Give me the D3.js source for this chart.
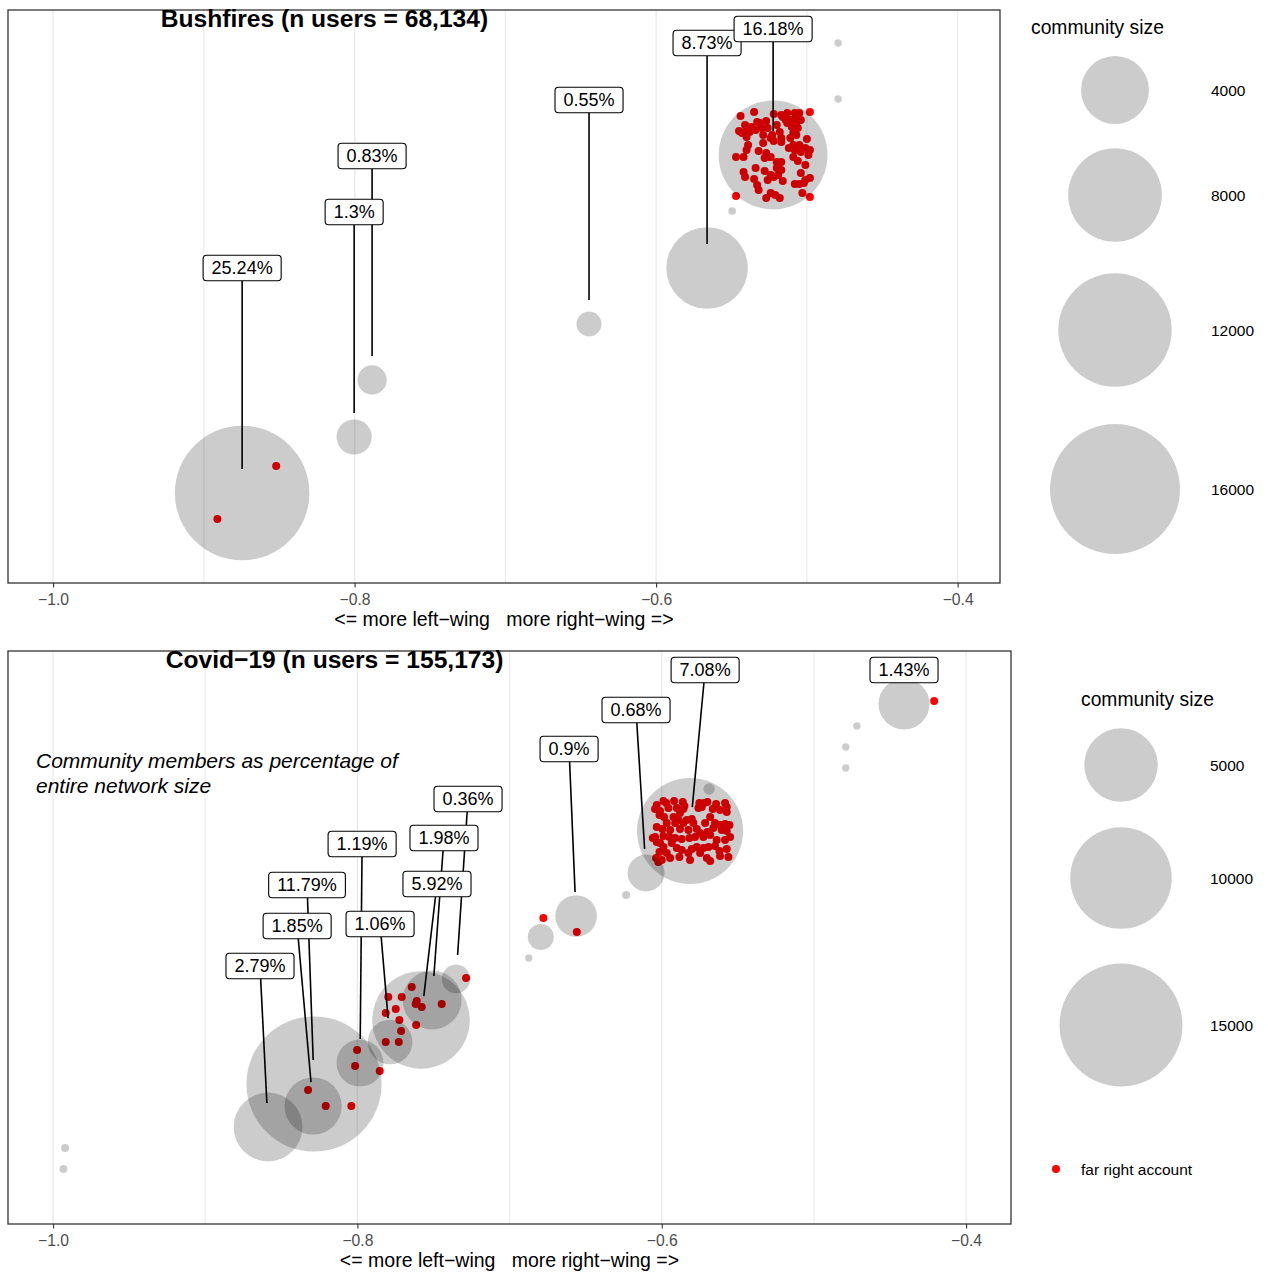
<!DOCTYPE html>
<html>
<head>
<meta charset="utf-8">
<script src="https://cdn.jsdelivr.net/npm/d3@7"></script>
<style>
  body { margin: 0; background: #fff; }
  svg text { font-family: "Liberation Sans", Arial, Helvetica, sans-serif; }
</style>
</head>
<body>
<svg id="chart" width="1268" height="1274"></svg>
<script>
// ---------- shared axis settings ----------
const xTickValues = [-1.0, -0.8, -0.6, -0.4];
const xMinorValues = [-0.9, -0.7, -0.5];
const xAxisTitle = "<= more left\u2212wing   more right\u2212wing =>";

// ---------- Bushfires network ----------
const bushTitle = "Bushfires (n users = 68,134)";
const bushUsers = 68134;
const bushPct = [25.24, 1.3, 0.83, 0.55, 8.73, 16.18];
const bushX = [-0.8746, -0.8003, -0.7884, -0.6445, -0.5662, -0.5224];
const bushY = [0.90, 1.46, 2.03, 2.59, 3.15, 4.28];
const bushLabelX = [-0.8746, -0.8003, -0.7884, -0.6445, -0.5662, -0.5224];
const bushLabelY = [3.15, 3.71, 4.27, 4.83, 5.40, 5.54];
const bushMinorX = [-0.4793, -0.4793, -0.5496];
const bushMinorY = [5.40, 4.84, 3.72];
const bushMinorUsers = [2, 2, 3];
const bushLegendBreaks = [4000, 8000, 12000, 16000];
const bushFarRight = [
  [-0.852,1.17],[-0.891,0.64],
  [-0.544,4.67],[-0.535,4.71],[-0.522,4.69],[-0.517,4.68],[-0.513,4.70],[-0.508,4.70],[-0.505,4.70],[-0.498,4.71],
  [-0.541,4.58],[-0.533,4.61],[-0.527,4.62],[-0.514,4.63],[-0.511,4.63],[-0.507,4.60],[-0.520,4.58],
  [-0.545,4.52],[-0.543,4.50],[-0.538,4.51],[-0.534,4.53],[-0.530,4.55],[-0.526,4.55],[-0.518,4.51],[-0.510,4.56],[-0.506,4.55],[-0.509,4.50],[-0.507,4.48],
  [-0.540,4.46],[-0.529,4.48],[-0.524,4.45],[-0.517,4.45],[-0.522,4.42],[-0.511,4.45],[-0.500,4.44],
  [-0.539,4.38],[-0.529,4.40],[-0.517,4.41],[-0.509,4.38],[-0.505,4.38],[-0.501,4.35],[-0.498,4.33],
  [-0.540,4.33],[-0.532,4.32],[-0.512,4.35],[-0.508,4.33],[-0.499,4.28],
  [-0.547,4.26],[-0.542,4.26],[-0.527,4.30],[-0.524,4.26],[-0.528,4.25],[-0.509,4.26],[-0.506,4.22],
  [-0.520,4.21],[-0.517,4.21],[-0.501,4.18],
  [-0.534,4.15],[-0.528,4.12],[-0.520,4.15],[-0.517,4.13],[-0.542,4.11],[-0.504,4.10],
  [-0.541,4.06],[-0.524,4.08],[-0.522,4.06],[-0.519,4.08],[-0.516,4.02],[-0.526,4.03],[-0.498,4.05],
  [-0.535,4.04],[-0.533,3.98],[-0.532,3.93],[-0.508,3.99],[-0.505,3.99],[-0.502,4.00],[-0.501,4.03],[-0.503,3.90],
  [-0.547,3.87],[-0.527,3.85],[-0.524,3.90],[-0.521,3.88],[-0.518,3.85],[-0.498,3.86],
  [-0.513,4.60],[-0.504,4.63],[-0.508,4.64],[-0.516,4.66],[-0.531,4.60],[-0.537,4.56],[-0.540,4.54],
  [-0.523,4.48],[-0.504,4.31],[-0.526,4.26],[-0.519,4.16]
];

// ---------- Covid-19 network ----------
const covidTitle = "Covid\u221219 (n users = 155,173)";
const covidUsers = 155173;
const covidPct = [11.79, 1.85, 2.79, 1.19, 1.06, 5.92, 1.98, 0.36, 0.9, 0.68, 7.08, 1.43];
const covidX = [-0.8285, -0.8291, -0.8587, -0.7983, -0.7785, -0.7582, -0.7509, -0.7352, -0.6563, -0.6103, -0.5814, -0.4408];
const covidY = [1.40, 1.18, 0.97, 1.61, 1.82, 2.04, 2.24, 2.45, 3.08, 3.51, 3.93, 5.20];
const covidLabelX = [-0.8331, -0.8396, -0.8640, -0.7969, -0.7851, -0.7477, -0.7431, -0.7273, -0.6609, -0.6169, -0.5715, -0.4408];
const covidLabelY = [3.39, 2.98, 2.58, 3.80, 3.00, 3.40, 3.86, 4.25, 4.75, 5.14, 5.54, 5.54];
const covidMinorX = [-0.6795, -0.6874, -0.6234, -0.4718, -0.4791, -0.4791, -0.9921, -0.9932, -0.5689];
const covidMinorY = [2.87, 2.66, 3.29, 4.98, 4.77, 4.56, 0.76, 0.55, 4.35];
const covidMinorUsers = [438, 2, 5, 2, 2, 2, 4, 4, 32];
const covidLegendBreaks = [5000, 10000, 15000];
const covidNote = ["Community members as percentage of", "entire network size"];
const covidFarRight = [
  [-0.7643,2.37],[-0.7797,2.27],[-0.7709,2.27],[-0.7610,2.23],[-0.7617,2.20],[-0.7577,2.17],[-0.7446,2.20],
  [-0.7748,2.15],[-0.7814,2.11],[-0.7724,2.04],[-0.7614,1.99],[-0.7713,1.93],[-0.7814,1.82],[-0.7728,1.82],
  [-0.7286,2.46],[-0.8002,1.74],[-0.8015,1.58],[-0.7853,1.53],[-0.8324,1.34],[-0.8208,1.18],[-0.8040,1.18],
  [-0.6778,3.06],[-0.6558,2.92],[-0.4210,5.23],
  [-0.6033,4.19],[-0.5989,4.23],[-0.5971,4.21],[-0.5919,4.23],[-0.5862,4.22],[-0.5851,4.18],[-0.5753,4.21],
  [-0.5722,4.21],[-0.5700,4.22],[-0.5643,4.20],[-0.5584,4.21],[-0.5573,4.17],
  [-0.6044,4.15],[-0.6011,4.13],[-0.5956,4.16],[-0.5901,4.16],[-0.5858,4.15],[-0.5759,4.16],[-0.5737,4.17],
  [-0.5665,4.15],[-0.5617,4.14],[-0.5573,4.12],[-0.5682,4.07],[-0.5985,4.07],[-0.6015,4.09],
  [-0.5923,4.07],[-0.5880,4.11],[-0.5890,4.04],[-0.5836,4.04],[-0.5803,4.05],[-0.5792,4.01],[-0.5715,4.01],
  [-0.5650,4.01],[-0.5617,3.99],[-0.5584,4.00],[-0.5555,3.99],[-0.5967,4.01],[-0.5912,4.01],[-0.5858,4.01],
  [-0.6033,3.97],[-0.5996,3.95],[-0.5945,3.94],[-0.5880,3.95],[-0.5825,3.94],[-0.5770,3.95],[-0.5748,3.91],
  [-0.5700,3.92],[-0.5661,3.96],[-0.5606,3.94],[-0.5573,3.93],[-0.5551,3.87],[-0.6044,3.87],[-0.6059,3.86],
  [-0.5989,3.88],[-0.5950,3.87],[-0.5912,3.86],[-0.5869,3.85],[-0.5818,3.86],[-0.5781,3.87],[-0.5726,3.87],
  [-0.5682,3.89],[-0.5639,3.84],[-0.5584,3.84],[-0.6033,3.82],[-0.6011,3.81],[-0.5934,3.81],
  [-0.5989,3.77],[-0.5901,3.76],[-0.5869,3.74],[-0.5803,3.75],[-0.5770,3.77],[-0.5726,3.76],[-0.5693,3.77],
  [-0.5650,3.78],[-0.5621,3.73],[-0.5573,3.75],[-0.6015,3.72],[-0.5967,3.71],[-0.5825,3.71],[-0.5748,3.71],
  [-0.6037,3.66],[-0.6022,3.62],[-0.6000,3.64],[-0.5945,3.66],[-0.5884,3.67],[-0.5814,3.64],[-0.5704,3.66],
  [-0.5682,3.63],[-0.5617,3.68],[-0.5562,3.67]
];

// ---------- drawing ----------
const svg = d3.select("#chart");
const fmtPct = v => v + "%";
const tickFmt = d3.format(".1f");
const accountRadius = 4;

function drawPanel(cfg) {
  const g = svg.append("g");
  const x = d3.scaleLinear().domain(cfg.xDomain).range([cfg.left, cfg.right]);
  const y = d3.scaleLinear().domain([0, 5.73]).range([cfg.bottom, cfg.top]);
  const r = d3.scaleSqrt().domain([0, cfg.sizeRef]).range([3, cfg.rRef]);

  const clipId = "clip-" + cfg.id;
  svg.append("clipPath").attr("id", clipId)
    .append("rect").attr("x", cfg.left).attr("y", cfg.top)
    .attr("width", cfg.right - cfg.left).attr("height", cfg.bottom - cfg.top);

  const body = g.append("g").attr("clip-path", `url(#${clipId})`);

  // vertical grid
  body.selectAll("line.minor").data(xMinorValues).join("line")
    .attr("x1", d => x(d)).attr("x2", d => x(d))
    .attr("y1", cfg.top).attr("y2", cfg.bottom)
    .attr("stroke", "#ebebeb").attr("stroke-width", 1.1);
  body.selectAll("line.major").data(xTickValues).join("line")
    .attr("x1", d => x(d)).attr("x2", d => x(d))
    .attr("y1", cfg.top).attr("y2", cfg.bottom)
    .attr("stroke", "#ebebeb").attr("stroke-width", 1.4);

  // far-right accounts
  body.append("g").selectAll("circle").data(cfg.farRight).join("circle")
    .attr("cx", d => x(d[0])).attr("cy", d => y(d[1])).attr("r", accountRadius)
    .attr("fill", "#ff0000");

  // communities (translucent, drawn above the accounts)
  const comms = cfg.pct.map((p, i) => ({
    pct: p, users: p / 100 * cfg.users, x: cfg.xs[i], y: cfg.ys[i],
    lx: cfg.lxs[i], ly: cfg.lys[i]
  }));
  const minors = cfg.minorX.map((v, i) => ({ x: v, y: cfg.minorY[i], users: cfg.minorUsers[i] }));
  body.append("g").selectAll("circle").data(minors.concat(comms)).join("circle")
    .attr("cx", d => x(d.x)).attr("cy", d => y(d.y)).attr("r", d => r(d.users))
    .attr("fill", "#000").attr("fill-opacity", 0.2);

  // label boxes with leader segments
  const labelLayer = body.append("g");
  const segLayer = labelLayer.append("g");
  const boxLayer = labelLayer.append("g");
  comms.forEach(c => {
    const t = boxLayer.append("text").text(fmtPct(c.pct))
      .attr("font-size", 18).attr("text-anchor", "middle")
      .attr("x", x(c.lx)).attr("y", y(c.ly) + 6.4).attr("fill", "#000");
    c.w = t.node().getComputedTextLength() + 17;
    c.h = 25.5;
    c.t = t;
  });
  comms.forEach(c => {
    const cx = x(c.lx), cy = y(c.ly), px = x(c.x), py = y(c.y);
    const dx = px - cx, dy = py - cy, len = Math.hypot(dx, dy);
    const ux = dx / len, uy = dy / len;
    const s = Math.min(Math.abs((c.w / 2) / (ux || 1e-9)), Math.abs((c.h / 2) / (uy || 1e-9)));
    const sx = cx + ux * s, sy = cy + uy * s;
    const ex = px - ux * 24, ey = py - uy * 24;
    if ((ex - sx) * ux + (ey - sy) * uy > 2) {
      segLayer.append("line").attr("x1", sx).attr("y1", sy).attr("x2", ex).attr("y2", ey)
        .attr("stroke", "#000").attr("stroke-width", 1.6);
    }
    boxLayer.insert("rect", () => c.t.node())
      .attr("x", cx - c.w / 2).attr("y", cy - c.h / 2)
      .attr("width", c.w).attr("height", c.h).attr("rx", 3.5)
      .attr("fill", "#fff").attr("stroke", "#000").attr("stroke-width", 1.1);
  });

  // panel border
  g.append("rect").attr("x", cfg.left).attr("y", cfg.top)
    .attr("width", cfg.right - cfg.left).attr("height", cfg.bottom - cfg.top)
    .attr("fill", "none").attr("stroke", "#333").attr("stroke-width", 1.3);

  // title inside the panel top
  g.append("text").text(cfg.title)
    .attr("x", x(cfg.titleX)).attr("y", y(5.56))
    .attr("text-anchor", "middle").attr("font-weight", "bold").attr("font-size", 24.6)
    .attr("fill", "#000");

  if (cfg.note) {
    const nt = g.append("text").attr("x", x(cfg.noteX)).attr("y", y(cfg.noteY))
      .attr("font-size", 21).attr("font-style", "italic").attr("fill", "#000");
    cfg.note.forEach((line, i) => nt.append("tspan").attr("x", x(cfg.noteX))
      .attr("dy", i === 0 ? 0 : 25).text(line));
  }

  // x axis
  const ax = g.append("g").attr("transform", `translate(0,${cfg.bottom})`)
    .call(d3.axisBottom(x).tickValues(xTickValues).tickFormat(tickFmt).tickSize(4.5).tickPadding(6));
  ax.select(".domain").remove();
  ax.selectAll(".tick line").attr("stroke", "#333").attr("stroke-width", 1.1);
  ax.selectAll(".tick text").attr("font-size", 15.7).attr("fill", "#4d4d4d")
    .attr("font-family", "'Liberation Sans', Arial, sans-serif");
  g.append("text").text(xAxisTitle)
    .attr("x", (cfg.left + cfg.right) / 2).attr("y", cfg.bottom + 43)
    .attr("text-anchor", "middle").attr("font-size", 19.5).attr("fill", "#000")
    .style("white-space", "pre");

  // size legend
  const lg = g.append("g");
  lg.append("text").text("community size").attr("x", cfg.legend.titleX).attr("y", cfg.legend.titleY)
    .attr("font-size", 19.3).attr("fill", "#000");
  cfg.legendBreaks.forEach((b, i) => {
    const cy = cfg.legend.centers[i];
    lg.append("circle").attr("cx", cfg.legend.cx).attr("cy", cy).attr("r", r(b))
      .attr("fill", "#000").attr("fill-opacity", 0.2);
    lg.append("text").text(b).attr("x", cfg.legend.labelX).attr("y", cy + 5.5)
      .attr("font-size", 15.5).attr("fill", "#000");
  });
  if (cfg.legend.dotY) {
    lg.append("circle").attr("cx", cfg.legend.dotX).attr("cy", cfg.legend.dotY).attr("r", accountRadius)
      .attr("fill", "#ff0000");
    lg.append("text").text("far right account").attr("x", cfg.legend.dotX + 25)
      .attr("y", cfg.legend.dotY + 5.5).attr("font-size", 15.5).attr("fill", "#000");
  }
}

drawPanel({
  id: "bush", left: 8, right: 1000, top: 10, bottom: 583,
  xDomain: [-1.0299, -0.3719], sizeRef: 16000, rRef: 65,
  title: bushTitle, titleX: -0.82, users: bushUsers,
  pct: bushPct, xs: bushX, ys: bushY, lxs: bushLabelX, lys: bushLabelY,
  minorX: bushMinorX, minorY: bushMinorY, minorUsers: bushMinorUsers,
  farRight: bushFarRight, legendBreaks: bushLegendBreaks,
  legend: { titleX: 1031, titleY: 34, cx: 1115, centers: [90, 195, 330, 489], labelX: 1211 }
});

drawPanel({
  id: "covid", left: 8, right: 1011, top: 651, bottom: 1224,
  xDomain: [-1.0296, -0.3705], sizeRef: 15000, rRef: 61.5,
  title: covidTitle, titleX: -0.815, users: covidUsers,
  pct: covidPct, xs: covidX, ys: covidY, lxs: covidLabelX, lys: covidLabelY,
  minorX: covidMinorX, minorY: covidMinorY, minorUsers: covidMinorUsers,
  farRight: covidFarRight, legendBreaks: covidLegendBreaks,
  note: covidNote, noteX: -1.0112, noteY: 4.56,
  legend: { titleX: 1081, titleY: 706, cx: 1121, centers: [765, 878, 1025], labelX: 1210,
            dotX: 1056, dotY: 1169 }
});
</script>
</body>
</html>
